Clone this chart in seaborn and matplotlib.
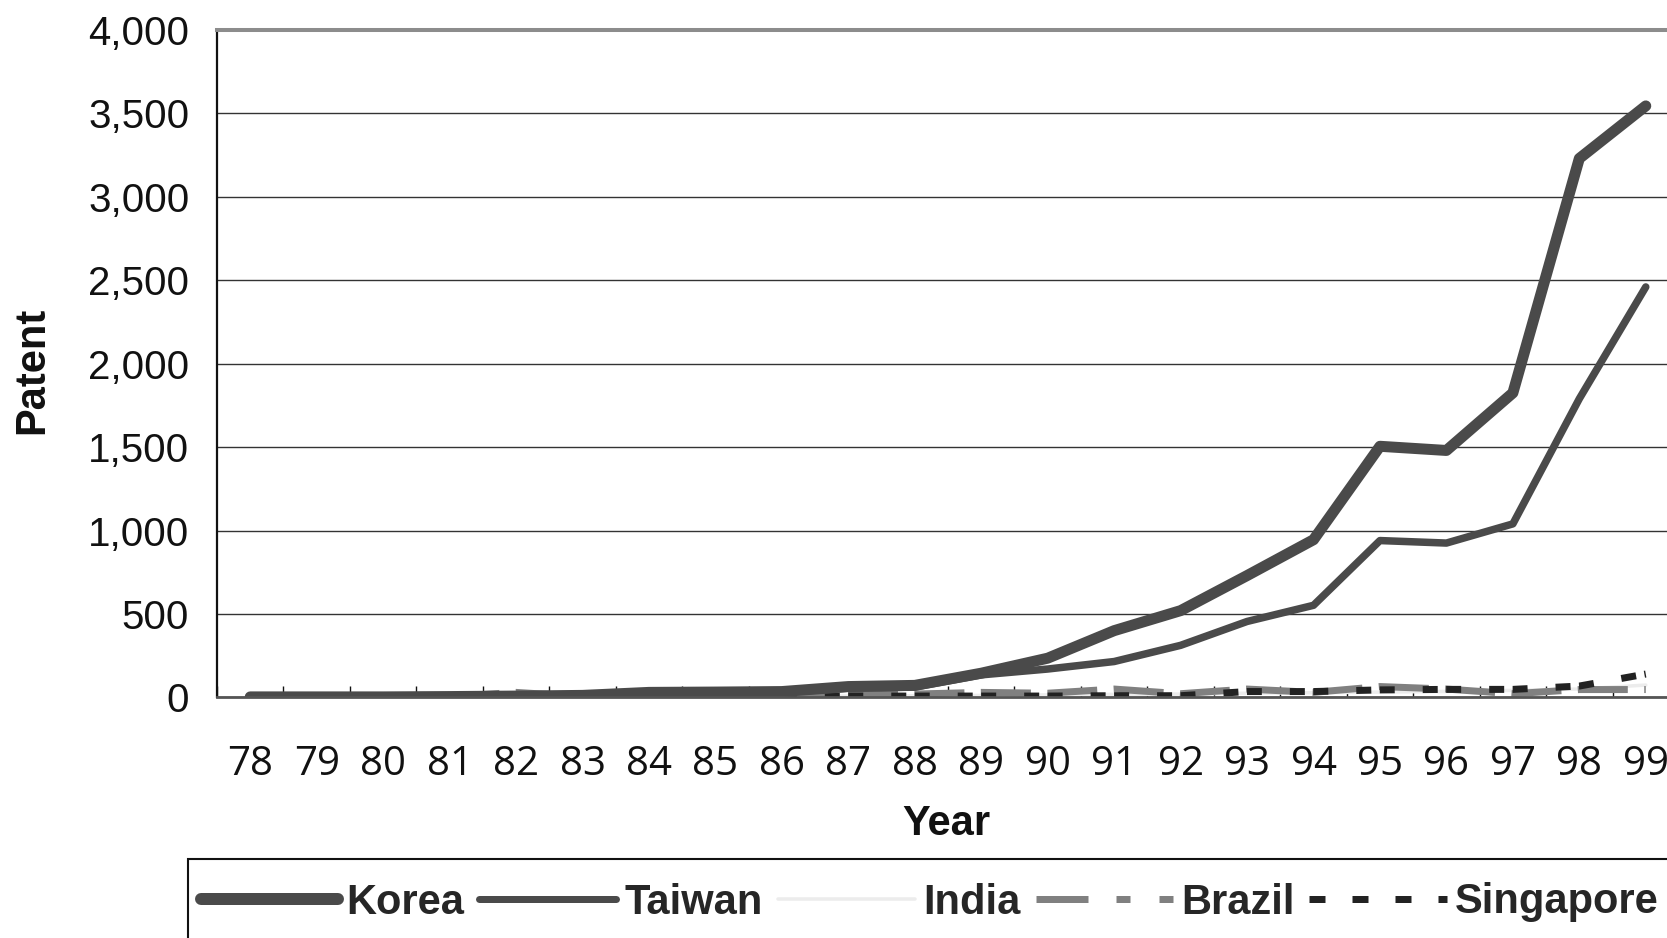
import numpy as np
import pandas as pd
import matplotlib
matplotlib.use("Agg")
import matplotlib.pyplot as plt
from matplotlib.lines import Line2D
from matplotlib.patches import Rectangle
from matplotlib.ticker import FuncFormatter
import seaborn as sns

# ---- data: US patents granted per year ----
years = ["78", "79", "80", "81", "82", "83", "84", "85", "86", "87", "88",
         "89", "90", "91", "92", "93", "94", "95", "96", "97", "98", "99"]
korea = [3, 3, 3, 5, 8, 12, 30, 32, 35, 65, 72, 145, 235, 400, 520, 730,
         945, 1505, 1480, 1825, 3230, 3545]
taiwan = [2, 2, 3, 5, 8, 10, 25, 28, 30, 55, 62, 135, 170, 215, 312, 455,
          552, 940, 925, 1040, 1790, 2460]
india = [5, 5, 4, 5, 4, 5, 5, 5, 6, 8, 10, 12, 15, 18, 20, 25, 28, 32, 36,
         42, 50, 74]
brazil = [3, 3, 3, 5, 30, 5, 8, 10, 12, 15, 20, 30, 25, 50, 22, 50, 30, 65,
          50, 22, 47, 47]
singapore = [2, 2, 2, 2, 3, 5, 5, 5, 5, 8, 8, 8, 8, 10, 10, 35, 35, 45, 48,
             48, 68, 140]
series_names = ["Korea", "Taiwan", "India", "Brazil", "Singapore"]
y_ticks = [0, 500, 1000, 1500, 2000, 2500, 3000, 3500, 4000]

sns.set_theme(style="white")
plt.rcParams["font.family"] = ["Liberation Sans", "DejaVu Sans"]
plt.rcParams["lines.scale_dashes"] = False

W, H = 1667, 938
fig = plt.figure(figsize=(W / 100, H / 100), dpi=100)
fig.patch.set_facecolor("white")

# plot area (runs a little past the right edge of the canvas)
left, right, top, bottom = 217, 1679, 30, 697.4
ax = fig.add_axes([left / W, 1 - bottom / H, (right - left) / W, (bottom - top) / H])
ax.set_facecolor("white")

df = pd.DataFrame({"pos": np.arange(len(years)), "Korea": korea, "Taiwan": taiwan,
                   "India": india, "Brazil": brazil, "Singapore": singapore})

px = 0.72  # points per pixel at 100 dpi
styles = {
    "Korea": dict(color="#4a4a4a", linewidth=11 * px, solid_capstyle="round",
                  solid_joinstyle="round"),
    "Taiwan": dict(color="#4a4a4a", linewidth=7.5 * px),
    "India": dict(color="#ececec", linewidth=3.5 * px),
    "Brazil": dict(color="#808080", linewidth=7 * px,
                   linestyle=(0, (50 * px, 16.45 * px))),
    "Singapore": dict(color="#222222", linewidth=7 * px,
                      linestyle=(0, (15 * px, 28 * px, 15 * px, 8.45 * px))),
}
draw_order = ["India", "Brazil", "Singapore", "Taiwan", "Korea"]
for name in draw_order:
    sns.lineplot(data=df, x="pos", y=name, ax=ax, **styles[name])

ax.set_xlim(-0.5, len(years) - 0.5)
ax.set_ylim(0, 4000)

# axes, ticks, grid
ax.set_yticks(y_ticks)
ax.yaxis.set_major_formatter(FuncFormatter(lambda v, p: f"{int(v):,}"))
ax.tick_params(axis="y", length=0, pad=20, labelsize=29, labelcolor="#111111")
for lab in ax.get_yticklabels():
    lab.set_family(["Liberation Sans", "DejaVu Sans"])

ax.set_xticks(np.arange(len(years)))
ax.set_xticklabels(years)
ax.set_xticks(np.arange(-0.5, len(years), 1), minor=True)
ax.tick_params(axis="x", which="major", length=0, pad=34, labelsize=29,
               labelcolor="#111111")
ax.tick_params(axis="x", which="minor", direction="in", length=8, width=1,
               color="#111111", bottom=True)
for lab in ax.get_xticklabels():
    lab.set_family(["Open Sans", "DejaVu Sans"])

ax.grid(axis="y", color="#333333", linewidth=1.0)
ax.grid(axis="x", visible=False)
ax.set_axisbelow(True)

ax.spines["left"].set_color("#111111")
ax.spines["left"].set_linewidth(1.6)
ax.spines["bottom"].set_color("#555555")
ax.spines["bottom"].set_linewidth(2.0)
ax.spines["top"].set_color("#8c8c8c")
ax.spines["top"].set_linewidth(2.9)
ax.spines["right"].set_visible(False)

ax.set_xlabel("")
ax.set_ylabel("")
fig.text(946 / W, 1 - 824 / H, "Year", ha="center", va="center",
         fontsize=30, fontweight="bold", color="#111111")
fig.text(32 / W, 1 - 370 / H, "Patent", ha="center", va="center", rotation=90,
         fontsize=30, fontweight="bold", color="#111111")

# legend box (open past the right and bottom edges)
fig.add_artist(Rectangle((188 / W, 1 - 990 / H), (1760 - 188) / W, (990 - 859) / H,
                         transform=fig.transFigure, facecolor="none",
                         edgecolor="#111111", linewidth=1.5))
handles = [
    Line2D([], [], color="#4a4a4a", linewidth=12 * px, solid_capstyle="round"),
    Line2D([], [], color="#4a4a4a", linewidth=7 * px),
    Line2D([], [], color="#ececec", linewidth=3.5 * px),
    Line2D([], [], color="#808080", linewidth=7 * px,
           linestyle=(0, (52 * px, 28 * px, 14 * px, 29 * px, 14 * px, 30 * px))),
    Line2D([], [], color="#222222", linewidth=7 * px,
           linestyle=(0, (16 * px, 27 * px))),
]
leg = fig.legend(handles, series_names, loc="upper left",
                 bbox_to_anchor=(188 / W, 1 - 870 / H), bbox_transform=fig.transFigure,
                 ncol=5, frameon=False, borderaxespad=0,
                 borderpad=0.3, handlelength=3.3, handletextpad=0.2,
                 columnspacing=0.35, prop=dict(size=30, weight="bold"))

fig.savefig("out.png", dpi=100)
